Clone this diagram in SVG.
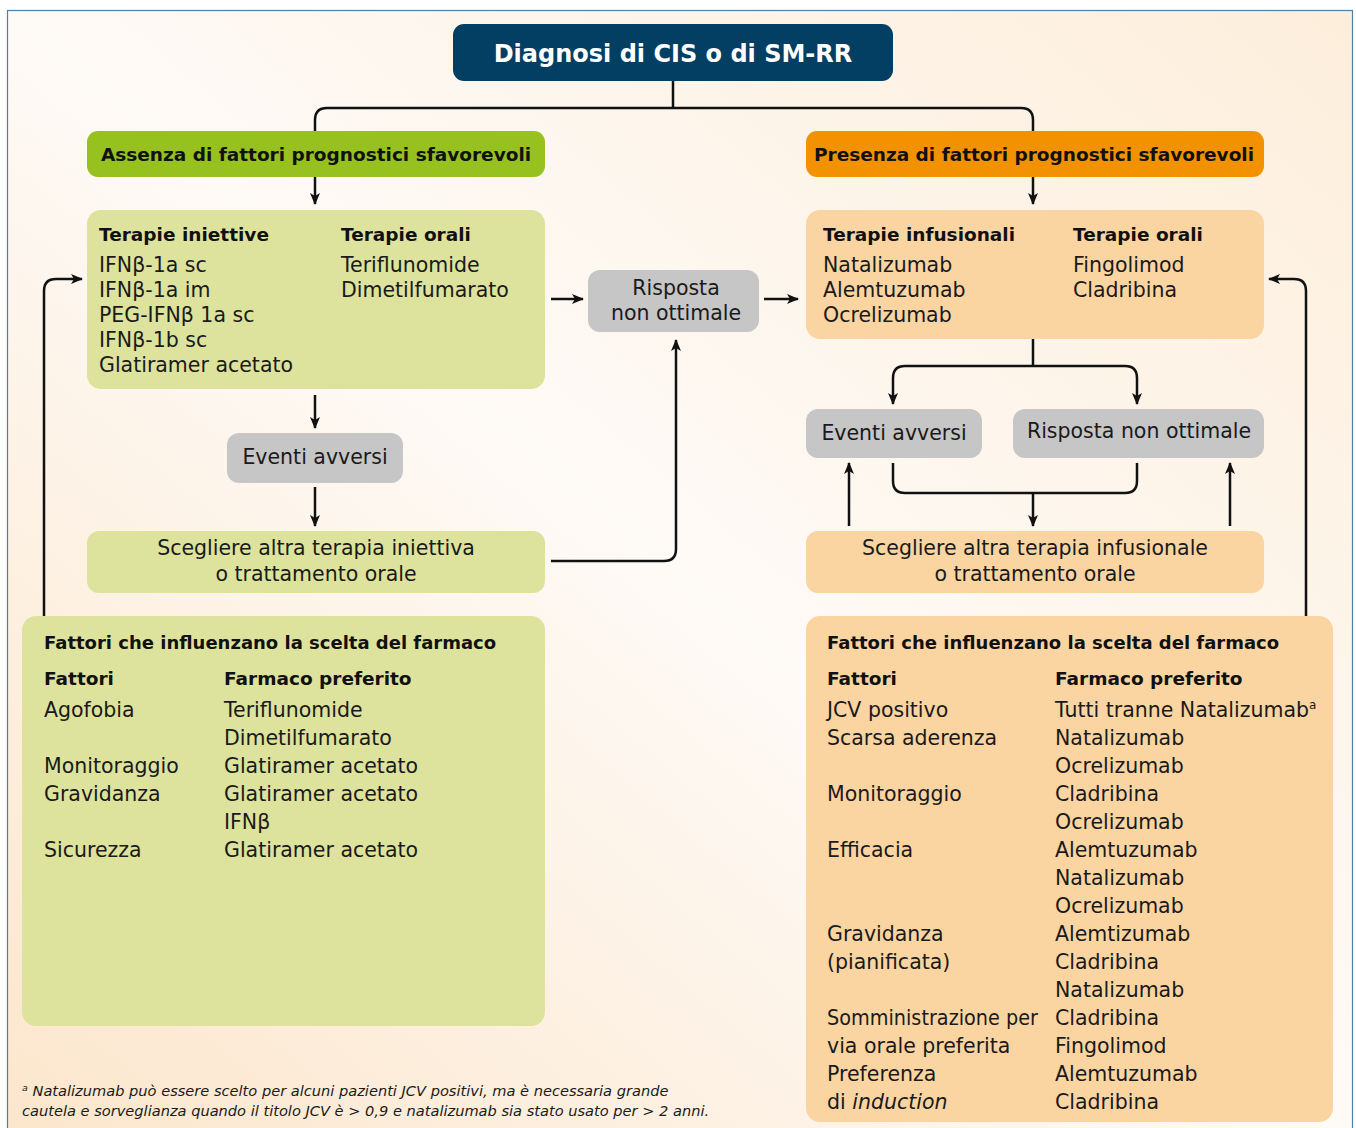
<svg xmlns="http://www.w3.org/2000/svg" width="1356" height="1128" viewBox="0 0 1356 1128">
<defs>
<linearGradient id="bg" x1="0" y1="1" x2="1" y2="0">
<stop offset="0" stop-color="#fce6cc"/>
<stop offset="0.5" stop-color="#fefaf6"/>
<stop offset="1" stop-color="#fdeedb"/>
</linearGradient>
<marker id="ah" viewBox="0 0 12 10" refX="11" refY="5" markerWidth="12" markerHeight="10" markerUnits="userSpaceOnUse" orient="auto">
<path d="M0,0 L12,5 L0,10 L3,5 z" fill="#111"/>
</marker>
<style>
text{font-family:"DejaVu Sans","Open Sans","Liberation Sans",sans-serif;fill:#1a1a1a}
.t{font-size:20.5px}
.b{font-size:18.5px;font-weight:bold;fill:#111}
.h{font-size:18px}
.c{text-anchor:middle}
.green{fill:#dde39c}
.peach{fill:#fad5a2}
.gray{fill:#c6c6c6}
.conn path{fill:none;stroke:#111;stroke-width:2.5}
.fn{font-size:14.6px;font-style:italic}
</style>
</defs>
<rect x="0" y="0" width="1356" height="1128" fill="#ffffff"/>
<rect x="7.5" y="10.5" width="1345" height="1130" fill="url(#bg)" stroke="#4f7fa3" stroke-width="1.2"/>

<g id="title">
<rect x="453" y="24" width="440" height="57" rx="11" fill="#023f63"/>
<text x="673" y="62" class="c" style="font-size:24px;font-weight:bold;fill:#fff">Diagnosi di CIS o di SM-RR</text>
</g>

<g id="assenza">
<rect x="87" y="131" width="458" height="46" rx="11" fill="#96c11f"/>
<text x="316" y="161" class="b c">Assenza di fattori prognostici sfavorevoli</text>
</g>

<g id="presenza">
<rect x="806" y="131" width="458" height="46" rx="11" fill="#f39200"/>
<text x="1034" y="161" class="b c">Presenza di fattori prognostici sfavorevoli</text>
</g>

<g id="terapie-left">
<rect x="87" y="210" width="458" height="179" rx="14" class="green"/>
<text x="99" y="241" class="b">Terapie iniettive</text>
<text x="341" y="241" class="b">Terapie orali</text>
<text x="99" y="272" class="t">IFNβ-1a sc</text>
<text x="99" y="297" class="t">IFNβ-1a im</text>
<text x="99" y="322" class="t">PEG-IFNβ 1a sc</text>
<text x="99" y="347" class="t">IFNβ-1b sc</text>
<text x="99" y="372" class="t">Glatiramer acetato</text>
<text x="341" y="272" class="t">Teriflunomide</text>
<text x="341" y="297" class="t">Dimetilfumarato</text>
</g>

<g id="risposta-center">
<rect x="588" y="270" width="171" height="62" rx="12" class="gray"/>
<text x="676" y="295" class="t c">Risposta</text>
<text x="676" y="320" class="t c">non ottimale</text>
</g>

<g id="terapie-right">
<rect x="806" y="210" width="458" height="129" rx="14" class="peach"/>
<text x="823" y="241" class="b">Terapie infusionali</text>
<text x="1073" y="241" class="b">Terapie orali</text>
<text x="823" y="272" class="t">Natalizumab</text>
<text x="823" y="297" class="t">Alemtuzumab</text>
<text x="823" y="322" class="t">Ocrelizumab</text>
<text x="1073" y="272" class="t">Fingolimod</text>
<text x="1073" y="297" class="t">Cladribina</text>
</g>

<g id="eventi-left">
<rect x="227" y="433" width="176" height="50" rx="12" class="gray"/>
<text x="315" y="464" class="t c">Eventi avversi</text>
</g>

<g id="scegliere-left">
<rect x="87" y="531" width="458" height="62" rx="12" class="green"/>
<text x="316" y="555" class="t c">Scegliere altra terapia iniettiva</text>
<text x="316" y="581" class="t c">o trattamento orale</text>
</g>

<g id="eventi-right">
<rect x="806" y="409" width="176" height="49" rx="12" class="gray"/>
<text x="894" y="440" class="t c">Eventi avversi</text>
</g>

<g id="risposta-right">
<rect x="1013" y="409" width="251" height="49" rx="12" class="gray"/>
<text x="1139" y="438" class="t c">Risposta non ottimale</text>
</g>

<g id="scegliere-right">
<rect x="806" y="531" width="458" height="62" rx="12" class="peach"/>
<text x="1035" y="555" class="t c">Scegliere altra terapia infusionale</text>
<text x="1035" y="581" class="t c">o trattamento orale</text>
</g>

<g id="fattori-left">
<rect x="22" y="616" width="523" height="410" rx="14" class="green"/>
<text x="44" y="649" class="b h">Fattori che influenzano la scelta del farmaco</text>
<text x="44" y="685" class="b">Fattori</text>
<text x="224" y="685" class="b">Farmaco preferito</text>
<text x="44" y="717" class="t">Agofobia</text>
<text x="44" y="773" class="t">Monitoraggio</text>
<text x="44" y="801" class="t">Gravidanza</text>
<text x="44" y="857" class="t">Sicurezza</text>
<text x="224" y="717" class="t">Teriflunomide</text>
<text x="224" y="745" class="t">Dimetilfumarato</text>
<text x="224" y="773" class="t">Glatiramer acetato</text>
<text x="224" y="801" class="t">Glatiramer acetato</text>
<text x="224" y="829" class="t">IFNβ</text>
<text x="224" y="857" class="t">Glatiramer acetato</text>
</g>

<g id="fattori-right">
<rect x="806" y="616" width="527" height="506" rx="14" class="peach"/>
<text x="827" y="649" class="b h">Fattori che influenzano la scelta del farmaco</text>
<text x="827" y="685" class="b">Fattori</text>
<text x="1055" y="685" class="b">Farmaco preferito</text>
<text x="827" y="717" class="t">JCV positivo</text>
<text x="827" y="745" class="t">Scarsa aderenza</text>
<text x="827" y="801" class="t">Monitoraggio</text>
<text x="827" y="857" class="t">Efficacia</text>
<text x="827" y="941" class="t">Gravidanza</text>
<text x="827" y="969" class="t">(pianificata)</text>
<text x="827" y="1025" class="t" textLength="211" lengthAdjust="spacingAndGlyphs">Somministrazione per</text>
<text x="827" y="1053" class="t">via orale preferita</text>
<text x="827" y="1081" class="t">Preferenza</text>
<text x="827" y="1109" class="t">di <tspan font-style="italic">induction</tspan></text>
<text x="1055" y="717" class="t">Tutti tranne Natalizumab<tspan dy="-8" font-size="12">a</tspan></text>
<text x="1055" y="745" class="t">Natalizumab</text>
<text x="1055" y="773" class="t">Ocrelizumab</text>
<text x="1055" y="801" class="t">Cladribina</text>
<text x="1055" y="829" class="t">Ocrelizumab</text>
<text x="1055" y="857" class="t">Alemtuzumab</text>
<text x="1055" y="885" class="t">Natalizumab</text>
<text x="1055" y="913" class="t">Ocrelizumab</text>
<text x="1055" y="941" class="t">Alemtizumab</text>
<text x="1055" y="969" class="t">Cladribina</text>
<text x="1055" y="997" class="t">Natalizumab</text>
<text x="1055" y="1025" class="t">Cladribina</text>
<text x="1055" y="1053" class="t">Fingolimod</text>
<text x="1055" y="1081" class="t">Alemtuzumab</text>
<text x="1055" y="1109" class="t">Cladribina</text>
</g>

<g id="footnote">
<text x="22" y="1096" class="fn"><tspan font-size="9.5" dy="-5">a</tspan><tspan dy="5"> Natalizumab può essere scelto per alcuni pazienti JCV positivi, ma è necessaria grande</tspan></text>
<text x="22" y="1116" class="fn">cautela e sorveglianza quando il titolo JCV è &gt; 0,9 e natalizumab sia stato usato per &gt; 2 anni.</text>
</g>

<g id="connectors" class="conn">
<path d="M673,81 V108"/>
<path d="M673,108 H327 Q315,108 315,120 V131"/>
<path d="M673,108 H1021 Q1033,108 1033,120 V131"/>
<path d="M315,177 V204" marker-end="url(#ah)"/>
<path d="M1033,177 V204" marker-end="url(#ah)"/>
<path d="M551,299 H583" marker-end="url(#ah)"/>
<path d="M764,299 H798" marker-end="url(#ah)"/>
<path d="M315,395 V428" marker-end="url(#ah)"/>
<path d="M315,487 V526" marker-end="url(#ah)"/>
<path d="M551,561 H664 Q676,561 676,549 V340" marker-end="url(#ah)"/>
<path d="M44,616 V291 Q44,279 56,279 H82" marker-end="url(#ah)"/>
<path d="M1306,616 V291 Q1306,279 1294,279 H1269" marker-end="url(#ah)"/>
<path d="M1033,339 V366"/>
<path d="M1033,366 H905 Q893,366 893,378 V404" marker-end="url(#ah)"/>
<path d="M1033,366 H1125 Q1137,366 1137,378 V404" marker-end="url(#ah)"/>
<path d="M893,463 V481 Q893,493 905,493 H1125 Q1137,493 1137,481 V463"/>
<path d="M1033,493 V526" marker-end="url(#ah)"/>
<path d="M849,526 V463" marker-end="url(#ah)"/>
<path d="M1230,526 V463" marker-end="url(#ah)"/>
</g>
</svg>
